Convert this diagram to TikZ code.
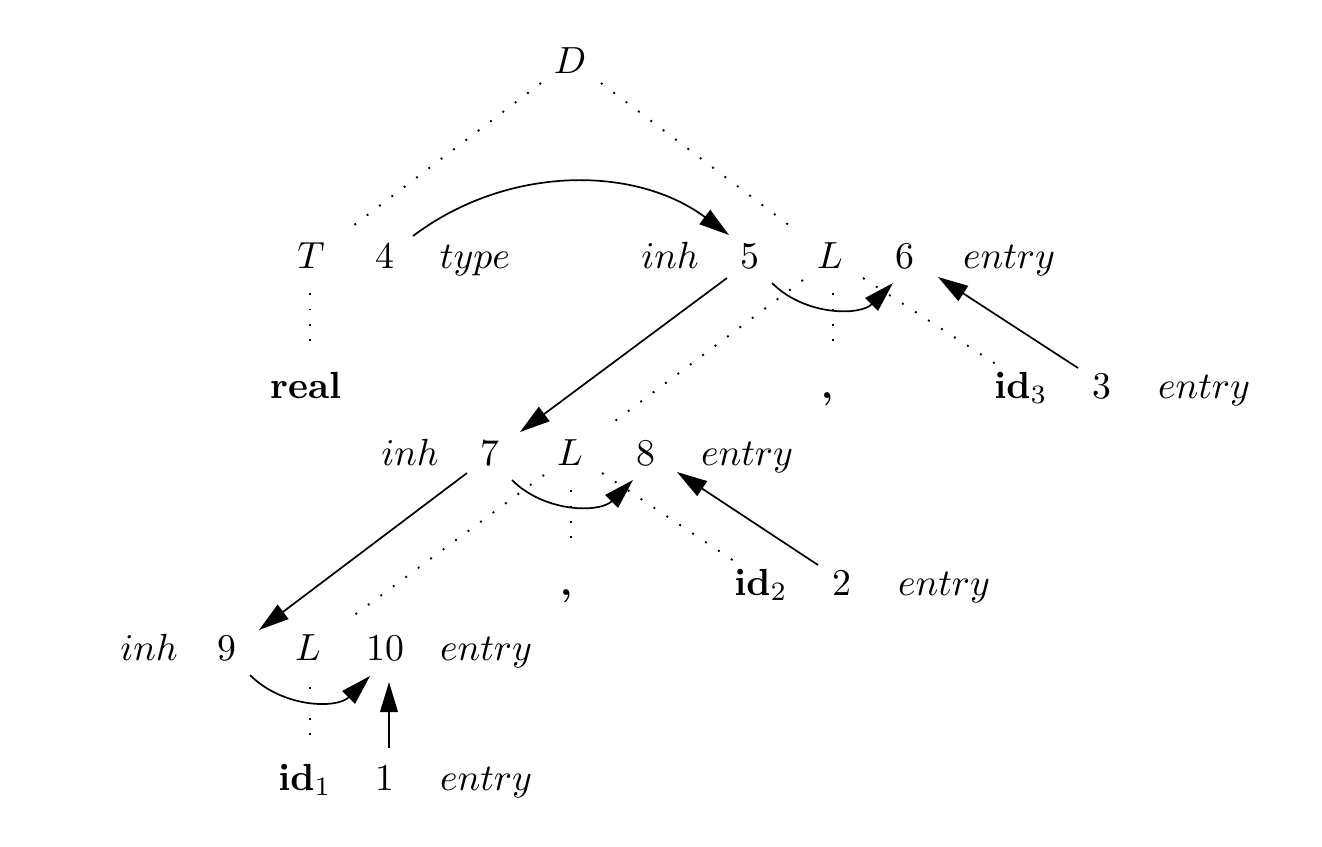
\documentclass[tikz,border=0pt]{standalone}
\usetikzlibrary{arrows.meta}
\begin{document}
\begin{tikzpicture}[x=0.2646pt,y=-0.2646pt,
  lab/.style={anchor=base,inner sep=0pt},
  arr/.style={line width=0.45pt,-{Triangle[length=8pt,width=4.7pt]}},
  tree/.style={line width=0.5pt,dash pattern=on 0.5pt off 3.6pt}]
\useasboundingbox (0,0) rectangle (1322,846);
% row 0
\node[lab] (D) at (570,73) {$D$};
% row 1
\node[lab] (T) at (311,268) {$T$};
\node[lab] (n4) at (385,268) {4};
\node[lab] (type) at (475,268) {$type$};
\node[lab] (inhA) at (670,268) {$inh$};
\node[lab] (n5) at (750,268) {5};
\node[lab] (L1) at (830,268) {$L$};
\node[lab] (n6) at (905,268) {6};
\node[lab] (entA) at (1009,268) {$entry$};
% row 2
\node[lab] (real) at (306,398) {\textbf{real}};
\node[lab] (c1) at (828,398) {\textbf{,}};
\node[lab] (id3) at (1021,398) {$\mathbf{id}_3$};
\node[lab] (n3) at (1102,398) {3};
\node[lab] (entB) at (1204,398) {$entry$};
% row 3
\node[lab] (inhB) at (410,465) {$inh$};
\node[lab] (n7) at (490,465) {7};
\node[lab] (L3) at (570,465) {$L$};
\node[lab] (n8) at (646,465) {8};
\node[lab] (entC) at (747,465) {$entry$};
% row 4
\node[lab] (c2) at (567,595) {\textbf{,}};
\node[lab] (id2) at (761,595) {$\mathbf{id}_2$};
\node[lab] (n2) at (842,595) {2};
\node[lab] (entD) at (944,595) {$entry$};
% row 5
\node[lab] (inhC) at (149,660) {$inh$};
\node[lab] (n9) at (227,660) {9};
\node[lab] (L5) at (308,660) {$L$};
\node[lab] (n10) at (385,660) {10};
\node[lab] (entE) at (486,660) {$entry$};
% row 6
\node[lab] (id1) at (305,790) {$\mathbf{id}_1$};
\node[lab] (n1) at (385,790) {1};
\node[lab] (entF) at (486,790) {$entry$};
% tree edges
\draw[tree] ([shift={(-29,10)}]D.base) -- ([shift={(34,-36)}]T.base);
\draw[tree] ([shift={(31,10)}]D.base) -- ([shift={(-32,-36)}]L1.base);
\draw[tree] ([shift={(-1,25)}]T.base) -- ([shift={(4,-51)}]real.base);
\draw[tree] ([shift={(-27,12)}]L1.base) -- ([shift={(37,-38)}]L3.base);
\draw[tree] ([shift={(3,25)}]L1.base) -- ([shift={(5,-51)}]c1.base);
\draw[tree] ([shift={(33,10)}]L1.base) -- ([shift={(-19,-30)}]id3.base);
\draw[tree] ([shift={(-26,10)}]L3.base) -- ([shift={(37,-38)}]L5.base);
\draw[tree] ([shift={(1,25)}]L3.base) -- ([shift={(4,-53)}]c2.base);
\draw[tree] ([shift={(32,8)}]L3.base) -- ([shift={(-21,-30)}]id2.base);
\draw[tree] ([shift={(2,27)}]L5.base) -- ([shift={(5,-53)}]id1.base);
% dependency arrows
\draw[arr] ([shift={(28,-32)}]n4.base) .. controls +(94,-71) and +(-94,-70) .. ([shift={(-21,-33)}]n5.base);
\draw[arr] ([shift={(-23,10)}]n5.base) -- ([shift={(30,-33)}]n7.base);
\draw[arr] ([shift={(-23,8)}]n7.base) -- ([shift={(32,-30)}]n9.base);
\draw[arr] ([shift={(22,15)}]n5.base) .. controls +(33,33) and +(-33,33) .. ([shift={(-12,15)}]n6.base);
\draw[arr] ([shift={(22,15)}]n7.base) .. controls +(33,33) and +(-33,33) .. ([shift={(-13,15)}]n8.base);
\draw[arr] ([shift={(23,15)}]n9.base) .. controls +(33,33) and +(-33,33) .. ([shift={(-15,16)}]n10.base);
\draw[arr] ([shift={(-24,-30)}]n3.base) -- ([shift={(33,9)}]n6.base);
\draw[arr] ([shift={(-24,-30)}]n2.base) -- ([shift={(31,7)}]n8.base);
\draw[arr] ([shift={(4,-42)}]n1.base) -- ([shift={(4,22)}]n10.base);
\end{tikzpicture}
\end{document}
